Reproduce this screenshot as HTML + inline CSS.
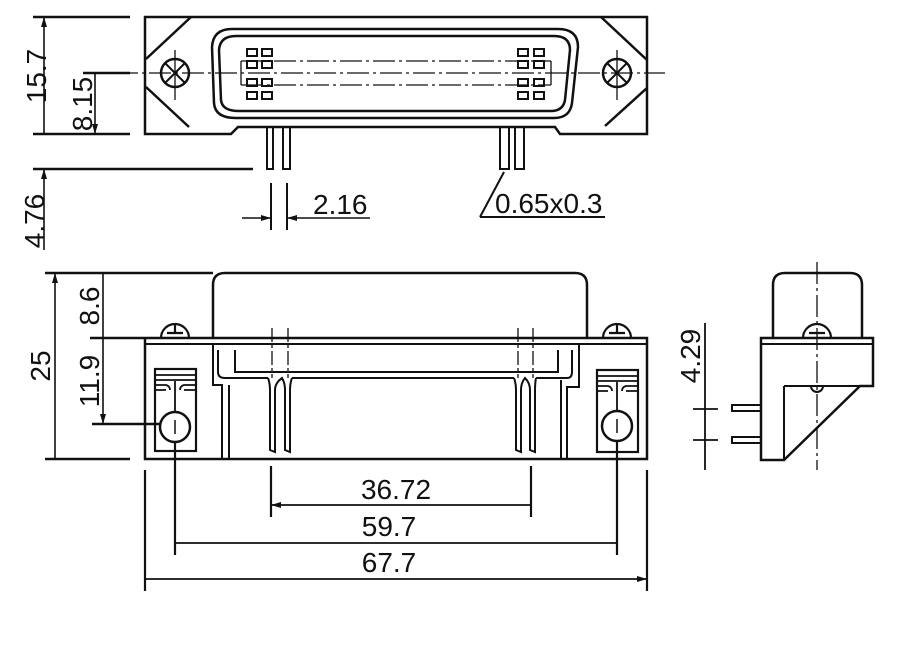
<!DOCTYPE html>
<html><head><style>
html,body{margin:0;padding:0;background:#fff;}
svg{display:block;}
text{font-family:"Liberation Sans",sans-serif;font-size:28px;fill:#111;}
</style></head><body>
<svg width="900" height="669" viewBox="0 0 900 669" xmlns="http://www.w3.org/2000/svg">
<defs>
<marker id="a" viewBox="0 0 10 6" refX="10" refY="3" markerWidth="10" markerHeight="6" orient="auto-start-reverse" markerUnits="userSpaceOnUse"><path d="M0,0 L10,3 L0,6z" fill="#111"/></marker>
</defs>
<g stroke="#111" stroke-width="2.5" fill="none">
<!-- TOP VIEW -->
<path d="M145,17 L647,17 L647,134 L560,134 L555,127 L238,127 L231,134 L145,134 Z"/>
<path d="M146,59 L191,17 M146,87 L189,127 M647,60 L601,17 M647,88 L605,126"/>
<path d="M232,29 L558,29 Q578,29 578,47 L572,103 Q570,118 554,118 L236,118 Q215,118 214,103 L212,47 Q213,29 232,29 Z"/>
<path d="M236,36 L554,36 Q570,36 570,50 L565,100 Q563,111 551,111 L239,111 Q222,111 221,100 L219,50 Q220,36 236,36 Z"/>
<g stroke-width="2">
<rect x="247" y="49" width="10" height="7"/><rect x="262" y="49" width="10" height="7"/>
<rect x="247" y="61" width="10" height="7"/><rect x="262" y="61" width="10" height="7"/>
<rect x="247" y="79" width="10" height="7"/><rect x="262" y="79" width="10" height="7"/>
<rect x="247" y="92" width="10" height="7"/><rect x="262" y="92" width="10" height="7"/>
<rect x="518" y="49" width="10" height="7"/><rect x="534" y="49" width="10" height="7"/>
<rect x="518" y="61" width="10" height="7"/><rect x="534" y="61" width="10" height="7"/>
<rect x="518" y="79" width="10" height="7"/><rect x="534" y="79" width="10" height="7"/>
<rect x="518" y="92" width="10" height="7"/><rect x="534" y="92" width="10" height="7"/>
</g>
<g stroke-width="1.3">
<path d="M241,61 L241,85 M551,61 L551,85"/>
<path d="M241,61 L551,61 M241,85 L551,85" stroke-dasharray="22,4,3,4"/>
<path d="M83,73 L665,73" stroke-dasharray="22,4,3,4"/>
<path d="M175,50 L175,100 M617,50 L617,100"/>
</g>
<circle cx="175" cy="73" r="14"/><path d="M165,63 L185,83 M185,63 L165,83" stroke-width="2"/>
<circle cx="617" cy="73" r="14"/><path d="M607,63 L627,83 M627,63 L607,83" stroke-width="2"/>
<g stroke-width="2">
<rect x="267" y="127" width="6" height="42"/><rect x="283" y="127" width="7" height="42"/>
<rect x="500" y="127" width="9" height="42"/><rect x="515" y="127" width="9" height="42"/>
</g>
<!-- top dims -->
<path d="M33,17 L130,17 M33,134 L130,134 M33,169 L253,169 M83,73 L130,73"/>
<path d="M44,17 L44,134 M95,73 L95,134" stroke-width="1.6" marker-start="url(#a)" marker-end="url(#a)"/>
<path d="M44,250 L44,169" stroke-width="1.6" marker-end="url(#a)"/>
<path d="M271,183 L271,230 M287,183 L287,230" stroke-width="2"/>
<path d="M242,218 L271,218" stroke-width="1.6" marker-end="url(#a)"/>
<path d="M370,218 L287,218" stroke-width="1.6" marker-end="url(#a)"/>
<path d="M480,217 L605,217 M480,217 L504,172" stroke-width="2"/>

<!-- FRONT VIEW -->
<path d="M213,338 L213,285 Q213,273 225,273 L575,273 Q587,273 587,285 L587,338"/>
<path d="M45,273 L213,273"/>
<path d="M90,338 L647,338 L647,459 L145,459 L145,338"/>
<path d="M145,344 L647,344" stroke-width="2"/>
<path d="M213,344 L213,385 L222,385 L222,459 M229,385 L229,459 M218,350 L218,372 Q218,378 225,378 L268,378 M235,350 L235,372 L558,372 L558,350 M292,378 L514,378 M536,378 L567,378 Q572,378 572,372 L572,350 M579,344 L579,387 L567,387 L567,459 M561,380 L561,459" stroke-width="2"/>
<g stroke-width="2">
<path d="M268,378 Q270,383 270,390 L270,450 L275,452 L275,390 Q275,383 282,378 Q285,383 285,390 L285,450 L290,452 L290,390 Q290,383 292,378"/>
<path d="M514,378 Q516,383 516,390 L516,450 L521,452 L521,390 Q521,383 525,378 Q530,383 530,390 L530,450 L535,452 L535,390 Q535,383 536,378"/>
</g>
<path d="M272,328 L272,378 M288,328 L288,378 M518,328 L518,378 M533,328 L533,378" stroke-width="1.3" stroke-dasharray="14,3,3,3"/>
<!-- screw blocks -->
<rect x="155" y="369" width="41" height="82" stroke-width="2.2"/>
<rect x="597" y="370" width="41" height="82" stroke-width="2.2"/>
<g stroke-width="1.8">
<path d="M155,375 L196,375 M155,380 L196,380 M155,385 L166,385 Q170,386 170,390 M180,390 Q180,386 184,385 L196,385 M155,390 L166,390 M184,390 L196,390"/>
<path d="M597,376 L638,376 M597,381 L638,381 M597,386 L608,386 Q612,387 612,391 M622,391 Q622,387 626,386 L638,386 M597,391 L608,391 M626,391 L638,391"/>
<path d="M175,381 L175,412 M617,382 L617,411"/>
</g>
<circle cx="175" cy="427" r="15"/><circle cx="617" cy="426" r="15"/>
<path d="M175,420 L175,434 M617,419 L617,433" stroke-width="1.5"/>
<path d="M161,338 A14,14 0 0 1 189,338 M167,333 L183,333 M175,333 L175,325" stroke-width="2.2"/>
<path d="M603,338 A14,14 0 0 1 631,338 M609,333 L625,333 M617,333 L617,325" stroke-width="2.2"/>
<!-- front dims -->
<path d="M45,459 L130,459 M92,424 L160,424"/>
<path d="M55,273 L55,459 M103,273 L103,338 M103,338 L103,424" stroke-width="1.6" marker-start="url(#a)" marker-end="url(#a)"/>
<path d="M145,470 L145,591 M647,470 L647,591 M175,442 L175,555 M617,442 L617,555 M271,466 L271,517 M531,466 L531,517" stroke-width="2.2"/>
<path d="M271,505 L531,505 M175,543 L617,543 M145,579 L647,579" stroke-width="1.8" marker-start="url(#a)" marker-end="url(#a)"/>

<!-- SIDE VIEW -->
<path d="M773,338 L773,285 Q773,273 785,273 L850,273 Q862,273 862,285 L862,338"/>
<path d="M761,338 L873,338 L873,386 L860,386 L784,460 L761,460 Z"/>
<path d="M761,344 L873,344 M784,386 L860,386 M784,386 L784,460" stroke-width="2"/>
<path d="M803,338 A14,14 0 0 1 831,338 M809,333 L825,333" stroke-width="2.2"/>
<path d="M811,386 A6,6 0 0 0 823,386" stroke-width="2"/>
<path d="M817,262 L817,470" stroke-width="1.3" stroke-dasharray="22,4,3,4"/>
<rect x="732" y="405" width="29" height="6" stroke-width="2"/>
<rect x="732" y="437" width="29" height="6" stroke-width="2"/>
<path d="M705,323 L705,470 M693,409 L718,409 M693,440 L718,440" stroke-width="1.8"/>
</g>
<!-- texts -->
<text transform="translate(46,76) rotate(-90)" text-anchor="middle">15.7</text>
<text transform="translate(92,104) rotate(-90)" text-anchor="middle">8.15</text>
<text transform="translate(44,221) rotate(-90)" text-anchor="middle">4.76</text>
<text x="313" y="214" font-size="26">2.16</text>
<text x="495" y="213" font-size="26">0.65x0.3</text>
<text transform="translate(50,366) rotate(-90)" text-anchor="middle">25</text>
<text transform="translate(99,306) rotate(-90)" text-anchor="middle">8.6</text>
<text transform="translate(99,381) rotate(-90)" text-anchor="middle">11.9</text>
<text transform="translate(700,356) rotate(-90)" text-anchor="middle">4.29</text>
<text x="396" y="499" text-anchor="middle">36.72</text>
<text x="389" y="536" text-anchor="middle">59.7</text>
<text x="389" y="572" text-anchor="middle">67.7</text>
</svg>
</body></html>
